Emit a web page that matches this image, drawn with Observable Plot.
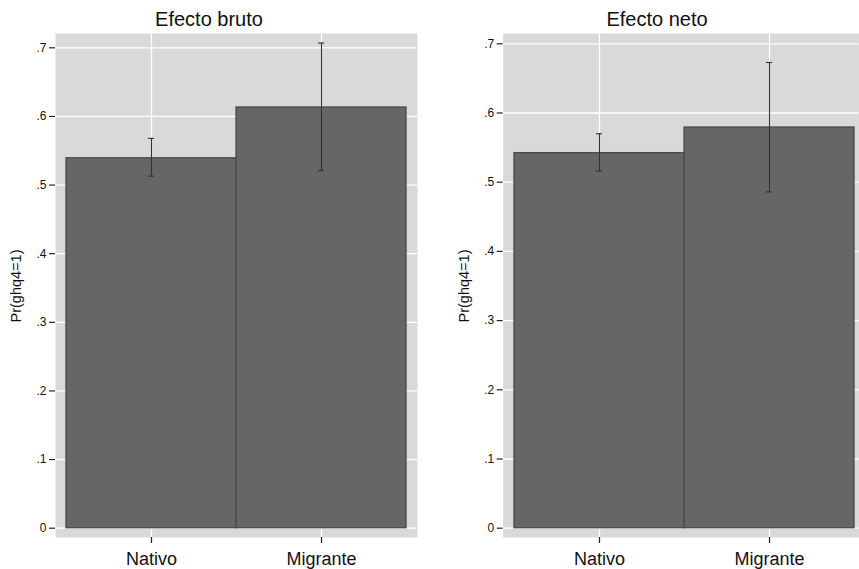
<!DOCTYPE html>
<html><head><meta charset="utf-8">
<script src="https://cdn.jsdelivr.net/npm/d3@7"></script>
<script src="https://cdn.jsdelivr.net/npm/@observablehq/plot@0.6"></script>
<style>
body{margin:0;background:#fff;font-family:"Liberation Sans",Arial,sans-serif;}
#wrap{position:relative;width:859px;height:569px;overflow:hidden;}
.panel{position:absolute;top:0;}
.title{position:absolute;top:9px;font-size:20px;line-height:1;transform:translateX(-50%);white-space:nowrap;color:#111;}
.ylab{position:absolute;font-size:14.5px;line-height:1;transform:translate(-50%,-50%) rotate(-90deg);white-space:nowrap;color:#111;}
</style>
</head><body>
<div id="wrap">
  <div class="panel" id="p1" style="left:0"></div>
  <div class="panel" id="p2" style="left:440px"></div>
  <div class="title" style="left:209px">Efecto bruto</div>
  <div class="title" style="left:657px">Efecto neto</div>
  <div class="ylab" style="left:16px;top:285.5px">Pr(ghq4=1)</div>
  <div class="ylab" style="left:464px;top:285.5px">Pr(ghq4=1)</div>
</div>
<script>
const categories = ["Nativo", "Migrante"];
const brutoValues = [0.539, 0.613];
const brutoLow = [0.513, 0.521];
const brutoHigh = [0.568, 0.707];
const netoValues = [0.542, 0.579];
const netoLow = [0.516, 0.486];
const netoHigh = [0.570, 0.673];
const yTicks = [0, 0.1, 0.2, 0.3, 0.4, 0.5, 0.6, 0.7];
const yTickLabels = ["0", ".1", ".2", ".3", ".4", ".5", ".6", ".7"];

const fmt = d => yTickLabels[yTicks.findIndex(t => Math.abs(t - d) < 1e-9)];

function panel(values, low, high, o) {
  const data = categories.map((c, i) => ({cat: c, value: values[i], low: low[i], high: high[i]}));
  const bw = o.xRange[1] - o.xRange[0];
  const inset = (bw / 2 - 7) / 2;
  return Plot.plot({
    width: o.width, height: 569,
    marginLeft: o.ml, marginRight: o.mr, marginTop: 33, marginBottom: 32,
    style: {fontFamily: '"Liberation Sans", Arial, sans-serif', background: "transparent", overflow: "visible"},
    x: {domain: categories, range: o.xRange, padding: 0, label: null},
    y: {domain: [0, 0.7], range: o.yRange, label: null},
    marks: [
      Plot.frame({fill: "#d9d9d9", stroke: "none"}),
      Plot.gridY({ticks: yTicks, stroke: "#fff", strokeOpacity: 1, strokeWidth: 1.3}),
      Plot.gridX({stroke: "#fff", strokeOpacity: 1, strokeWidth: 1.3}),
      Plot.barY(data, {x: "cat", y: "value", fill: "#666666", stroke: "#4a4a4a", strokeWidth: 1.3}),
      Plot.ruleX(data, {x: "cat", y1: "low", y2: "high", stroke: "#333", strokeWidth: 1.1}),
      Plot.tickY(data, {x: "cat", y: "low", stroke: "#333", strokeWidth: 1.1, insetLeft: inset, insetRight: inset}),
      Plot.tickY(data, {x: "cat", y: "high", stroke: "#333", strokeWidth: 1.1, insetLeft: inset, insetRight: inset}),
      Plot.axisY({ticks: yTicks, tickSize: 6, tickPadding: 3, fontSize: 12, tickFormat: fmt, stroke: "#222", strokeWidth: 1.2, fill: "#111", label: null}),
      Plot.axisX({tickSize: 6, tickPadding: 9, fontSize: 18, stroke: "#222", strokeWidth: 1.2, fill: "#111", label: null})
    ]
  });
}

document.getElementById("p1").append(panel(brutoValues, brutoLow, brutoHigh, {
  width: 440, ml: 55, mr: 23, xRange: [65, 406.7], yRange: [527.7, 47.3]
}));
document.getElementById("p2").append(panel(netoValues, netoLow, netoHigh, {
  width: 419, ml: 62.7, mr: 0.5, xRange: [73.3, 415], yRange: [527.7, 43.3]
}));
</script>
</body></html>
